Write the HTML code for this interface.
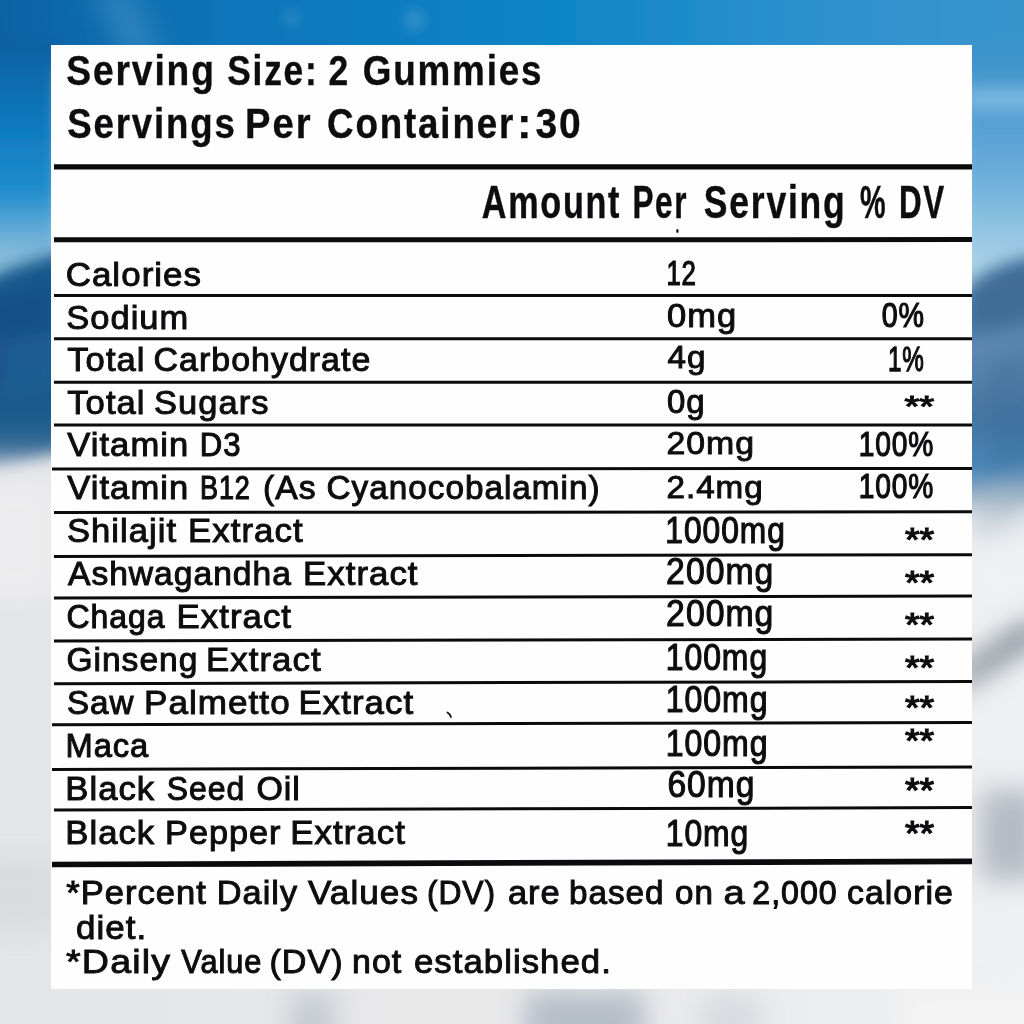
<!DOCTYPE html>
<html><head><meta charset="utf-8"><style>
html,body{margin:0;padding:0;width:1024px;height:1024px;overflow:hidden;background:#e9e9ea}
svg{display:block;will-change:transform}
text{font-family:"Liberation Sans",sans-serif;fill:#0d0d0f;stroke:#0d0d0f;stroke-width:0.7px}
text.b{stroke-width:0.3px}
</style></head><body>
<svg width="1024" height="1024" viewBox="0 0 1024 1024">
<defs>
<linearGradient id="skyL" x1="0" y1="0" x2="0" y2="1">
<stop offset="0" stop-color="#0b5e9f"/><stop offset="0.22" stop-color="#0c78bc"/><stop offset="0.42" stop-color="#1f8dcd"/><stop offset="0.58" stop-color="#80b8db"/><stop offset="0.7" stop-color="#a6cce3"/><stop offset="1" stop-color="#a6cce3"/>
</linearGradient>
<linearGradient id="skyR" x1="0" y1="0" x2="0" y2="1">
<stop offset="0" stop-color="#3a92cb"/><stop offset="0.15" stop-color="#4c9bd0"/><stop offset="0.3" stop-color="#66aad8"/><stop offset="0.45" stop-color="#8fc3e2"/><stop offset="0.52" stop-color="#a8d0e7"/><stop offset="1" stop-color="#a8d0e7"/>
</linearGradient>
<linearGradient id="skyT" x1="0" y1="0" x2="1" y2="0">
<stop offset="0" stop-color="#0a5c9e"/><stop offset="0.12" stop-color="#0a6aac"/><stop offset="0.25" stop-color="#0775b9"/><stop offset="0.5" stop-color="#0a82c5"/><stop offset="0.75" stop-color="#2b91cd"/><stop offset="1" stop-color="#3b95cd"/>
</linearGradient>
<linearGradient id="snow" x1="0" y1="0" x2="1" y2="0">
<stop offset="0" stop-color="#e4e5e7"/><stop offset="0.5" stop-color="#e9e9ea"/><stop offset="1" stop-color="#eff0f2"/>
</linearGradient>
<linearGradient id="mtR" x1="0" y1="255" x2="0" y2="515" gradientUnits="userSpaceOnUse">
<stop offset="0" stop-color="#47789f"/><stop offset="0.17" stop-color="#4c7da8"/><stop offset="0.37" stop-color="#5c88b0"/><stop offset="0.63" stop-color="#43749f"/><stop offset="0.83" stop-color="#4a88ba"/><stop offset="0.9" stop-color="#7fa3c0"/><stop offset="1" stop-color="#dfe5ea"/>
</linearGradient>
<linearGradient id="mtL" x1="0" y1="250" x2="0" y2="475" gradientUnits="userSpaceOnUse">
<stop offset="0" stop-color="#17578b"/><stop offset="0.75" stop-color="#1a5a8c"/><stop offset="0.88" stop-color="#3a6d98"/><stop offset="1" stop-color="#d0d8e0"/>
</linearGradient>
<filter id="b8" filterUnits="userSpaceOnUse" x="-100" y="-100" width="1224" height="1224"><feGaussianBlur stdDeviation="8"/></filter>
<filter id="b14" filterUnits="userSpaceOnUse" x="-100" y="-100" width="1224" height="1224"><feGaussianBlur stdDeviation="14"/></filter>
<filter id="b5" filterUnits="userSpaceOnUse" x="-100" y="-100" width="1224" height="1224"><feGaussianBlur stdDeviation="5"/></filter>
</defs>
<rect x="0" y="0" width="1024" height="1024" fill="url(#snow)"/>
<g filter="url(#b8)">
<rect x="-50" y="-50" width="1124" height="120" fill="url(#skyT)"/>
<rect x="-50" y="40" width="110" height="360" fill="url(#skyL)"/>
<rect x="960" y="40" width="114" height="420" fill="url(#skyR)"/>
</g>
<path d="M90 -15 L130 -15 L165 60 L125 60 Z" fill="#4a94c6" opacity="0.55" filter="url(#b14)"/>
<g filter="url(#b5)">

<circle cx="292" cy="18" r="9" fill="#3a90c8" opacity="0.5"/>
<circle cx="415" cy="20" r="11" fill="#4a9bd0" opacity="0.5"/>

</g>
<rect x="965" y="88" width="80" height="22" fill="#9ccbe8" opacity="0.6" filter="url(#b8)"/>
<g filter="url(#b8)">
<path d="M-30 285 L20 265 L70 250 L70 450 L-30 475 Z" fill="url(#mtL)"/>
<path d="M-10 300 L50 285 L50 370 L-10 390 Z" fill="#0f4d84" opacity="0.7"/>
<path d="M0 340 L60 330 L60 380 L0 395 Z" fill="#2a679a" opacity="0.5"/>
<path d="M950 305 Q990 255 1050 255 L1050 505 L950 515 Z" fill="url(#mtR)"/>
<path d="M968 290 Q995 262 1040 262 L1040 320 L968 335 Z" fill="#3c6994" opacity="0.8"/>
<path d="M990 360 L1030 350 L1030 470 L990 480 Z" fill="#3d6e9c" opacity="0.4"/>
</g>
<g filter="url(#b14)">
<path d="M955 672 L1040 612 L1040 640 L955 692 Z" fill="#75808b"/>
<rect x="980" y="790" width="60" height="90" fill="#b3bac3"/>
<rect x="-30" y="860" width="90" height="70" fill="#d9dadd"/>
<rect x="-30" y="480" width="90" height="120" fill="#ececee"/>
<rect x="290" y="992" width="45" height="60" fill="#c4cad1"/>
<rect x="525" y="992" width="120" height="60" fill="#b5bdc7"/>
<rect x="700" y="995" width="60" height="50" fill="#d6dade"/>
<rect x="900" y="989" width="164" height="55" fill="#f3f3f3"/>
<rect x="972" y="530" width="80" height="70" fill="#eef0f2"/>
<path d="M972 500 L1030 470 L1030 520 L972 540 Z" fill="#9fb0c0" opacity="0.6"/>
</g>

<rect x="51" y="45" width="921" height="944" fill="#fefefe"/>
<ellipse cx="677.4" cy="231" rx="1.2" ry="2" fill="#111"/>
<path d="M447.5 712.5 Q450 714 451 717" stroke="#111" stroke-width="1.8" fill="none" stroke-linecap="round"/>
<g stroke="#0b0b0d" stroke-linecap="butt">
<line x1="54" y1="166.8" x2="972" y2="166.8" stroke-width="5.3"/>
<line x1="54" y1="239.8" x2="972" y2="239.6" stroke-width="5"/>
<line x1="54" y1="295.4" x2="972" y2="295.4" stroke-width="3"/>
<line x1="54" y1="338.7" x2="972" y2="338.7" stroke-width="3"/>
<line x1="54" y1="382.2" x2="972" y2="382.2" stroke-width="3"/>
<line x1="54" y1="425" x2="972" y2="425" stroke-width="3"/>
<line x1="52" y1="469" x2="972" y2="468.4" stroke-width="3"/>
<line x1="54" y1="512.5" x2="972" y2="511.8" stroke-width="3"/>
<line x1="54" y1="556.4" x2="972" y2="554.7" stroke-width="3"/>
<line x1="54" y1="598" x2="972" y2="596" stroke-width="3"/>
<line x1="54" y1="640.9" x2="972" y2="639" stroke-width="3"/>
<line x1="54" y1="683.7" x2="972" y2="681.5" stroke-width="3"/>
<line x1="52" y1="724.7" x2="972" y2="722.5" stroke-width="3"/>
<line x1="52" y1="769.4" x2="972" y2="767" stroke-width="3"/>
<line x1="54" y1="810" x2="972" y2="807.6" stroke-width="3"/>
<line x1="52" y1="864.5" x2="972" y2="861.4" stroke-width="5.7"/>
</g>
<g>
<text transform="translate(66.32,85.20) scale(0.8780,1)" font-size="42.38" letter-spacing="2.12" font-weight="bold" style="stroke-width:0.34px">Serving</text>
<text transform="translate(227.25,85.20) scale(0.8332,1)" font-size="42.38" letter-spacing="2.12" font-weight="bold" style="stroke-width:0.36px">Size:</text>
<text transform="translate(328.49,85.20) scale(0.8353,1)" font-size="42.38" letter-spacing="2.12" font-weight="bold" style="stroke-width:0.36px">2</text>
<text transform="translate(362.65,85.20) scale(0.8693,1)" font-size="42.38" letter-spacing="2.12" font-weight="bold" style="stroke-width:0.35px">Gummies</text>
<text transform="translate(67.23,138.40) scale(0.8648,1)" font-size="42.38" letter-spacing="2.12" font-weight="bold" style="stroke-width:0.35px">Servings</text>
<text transform="translate(245.11,138.40) scale(0.9016,1)" font-size="42.38" letter-spacing="2.12" font-weight="bold" style="stroke-width:0.33px">Per</text>
<text transform="translate(327.05,138.40) scale(0.8674,1)" font-size="42.38" letter-spacing="2.12" font-weight="bold" style="stroke-width:0.35px">Container</text>
<text transform="translate(516.92,138.40) scale(1.0268,1)" font-size="42.38" letter-spacing="2.12" font-weight="bold" style="stroke-width:0.29px">:</text>
<text transform="translate(535.39,138.40) scale(0.9215,1)" font-size="42.38" letter-spacing="2.12" font-weight="bold" style="stroke-width:0.33px">30</text>
<text transform="translate(481.87,218.30) scale(0.7325,1)" font-size="46.65" letter-spacing="2.33" font-weight="bold" style="stroke-width:0.41px">Amount</text>
<text transform="translate(632.53,218.30) scale(0.6750,1)" font-size="46.65" letter-spacing="2.33" font-weight="bold" style="stroke-width:0.44px">Per</text>
<text transform="translate(703.85,218.30) scale(0.7608,1)" font-size="46.65" letter-spacing="2.33" font-weight="bold" style="stroke-width:0.39px">Serving</text>
<text transform="translate(860.05,218.30) scale(0.6161,1)" font-size="46.65" letter-spacing="2.33" font-weight="bold" style="stroke-width:0.49px">%</text>
<text transform="translate(899.04,218.30) scale(0.6719,1)" font-size="46.65" letter-spacing="2.33" font-weight="bold" style="stroke-width:0.45px">DV</text>
<text transform="translate(65.66,285.60) scale(1.0231,1)" font-size="34.13" letter-spacing="1.02" font-weight="normal" style="stroke-width:0.98px">Calories</text>
<text transform="translate(66.22,328.60) scale(1.0108,1)" font-size="34.13" letter-spacing="1.02" font-weight="normal" style="stroke-width:0.99px">Sodium</text>
<text transform="translate(67.26,371.30) scale(1.0148,1)" font-size="34.13" letter-spacing="1.02" font-weight="normal" style="stroke-width:0.99px">Total</text>
<text transform="translate(153.61,371.30) scale(0.9940,1)" font-size="34.13" letter-spacing="1.02" font-weight="normal" style="stroke-width:1.01px">Carbohydrate</text>
<text transform="translate(67.26,413.50) scale(1.0148,1)" font-size="34.13" letter-spacing="1.02" font-weight="normal" style="stroke-width:0.99px">Total</text>
<text transform="translate(154.12,413.50) scale(1.0096,1)" font-size="34.13" letter-spacing="1.02" font-weight="normal" style="stroke-width:0.99px">Sugars</text>
<text transform="translate(67.30,455.60) scale(1.0134,1)" font-size="34.13" letter-spacing="1.02" font-weight="normal" style="stroke-width:0.99px">Vitamin</text>
<text transform="translate(199.77,455.60) scale(0.9112,1)" font-size="34.13" letter-spacing="1.02" font-weight="normal" style="stroke-width:1.10px">D3</text>
<text transform="translate(67.30,499.00) scale(1.0134,1)" font-size="34.13" letter-spacing="1.02" font-weight="normal" style="stroke-width:0.99px">Vitamin</text>
<text transform="translate(200.09,499.00) scale(0.7917,1)" font-size="34.13" letter-spacing="1.02" font-weight="normal" style="stroke-width:1.25px">B12</text>
<text transform="translate(263.02,499.00) scale(0.9865,1)" font-size="34.13" letter-spacing="1.02" font-weight="normal" style="stroke-width:1.01px">(As</text>
<text transform="translate(326.54,499.00) scale(0.9758,1)" font-size="34.13" letter-spacing="1.02" font-weight="normal" style="stroke-width:1.02px">Cyanocobalamin)</text>
<text transform="translate(66.92,542.40) scale(1.0143,1)" font-size="34.13" letter-spacing="1.02" font-weight="normal" style="stroke-width:0.99px">Shilajit</text>
<text transform="translate(188.08,542.40) scale(1.0199,1)" font-size="34.13" letter-spacing="1.02" font-weight="normal" style="stroke-width:0.98px">Extract</text>
<text transform="translate(68.00,585.00) scale(0.9841,1)" font-size="34.13" letter-spacing="1.02" font-weight="normal" style="stroke-width:1.02px">Ashwagandha</text>
<text transform="translate(302.98,585.00) scale(1.0199,1)" font-size="34.13" letter-spacing="1.02" font-weight="normal" style="stroke-width:0.98px">Extract</text>
<text transform="translate(66.50,627.80) scale(0.9371,1)" font-size="34.13" letter-spacing="1.02" font-weight="normal" style="stroke-width:1.07px">Chaga</text>
<text transform="translate(176.48,627.80) scale(1.0199,1)" font-size="34.13" letter-spacing="1.02" font-weight="normal" style="stroke-width:0.98px">Extract</text>
<text transform="translate(66.43,671.00) scale(0.9826,1)" font-size="34.13" letter-spacing="1.02" font-weight="normal" style="stroke-width:1.02px">Ginseng</text>
<text transform="translate(206.08,671.00) scale(1.0199,1)" font-size="34.13" letter-spacing="1.02" font-weight="normal" style="stroke-width:0.98px">Extract</text>
<text transform="translate(66.96,713.80) scale(0.9735,1)" font-size="34.13" letter-spacing="1.02" font-weight="normal" style="stroke-width:1.03px">Saw</text>
<text transform="translate(143.96,713.80) scale(1.0274,1)" font-size="34.13" letter-spacing="1.02" font-weight="normal" style="stroke-width:0.97px">Palmetto</text>
<text transform="translate(298.58,713.80) scale(1.0199,1)" font-size="34.13" letter-spacing="1.02" font-weight="normal" style="stroke-width:0.98px">Extract</text>
<text transform="translate(65.45,756.50) scale(0.9573,1)" font-size="34.13" letter-spacing="1.02" font-weight="normal" style="stroke-width:1.04px">Maca</text>
<text transform="translate(65.29,800.00) scale(1.0149,1)" font-size="34.13" letter-spacing="1.02" font-weight="normal" style="stroke-width:0.99px">Black</text>
<text transform="translate(166.70,800.00) scale(0.9360,1)" font-size="34.13" letter-spacing="1.02" font-weight="normal" style="stroke-width:1.07px">Seed</text>
<text transform="translate(256.41,800.00) scale(0.9946,1)" font-size="34.13" letter-spacing="1.02" font-weight="normal" style="stroke-width:1.01px">Oil</text>
<text transform="translate(65.29,844.00) scale(1.0149,1)" font-size="34.13" letter-spacing="1.02" font-weight="normal" style="stroke-width:0.99px">Black</text>
<text transform="translate(165.03,844.00) scale(1.0031,1)" font-size="34.13" letter-spacing="1.02" font-weight="normal" style="stroke-width:1.00px">Pepper</text>
<text transform="translate(290.28,844.00) scale(1.0199,1)" font-size="34.13" letter-spacing="1.02" font-weight="normal" style="stroke-width:0.98px">Extract</text>
<text transform="translate(666.38,285.40) scale(0.7520,1)" font-size="34.42" letter-spacing="1.03" font-weight="normal" style="stroke-width:1.25px">12</text>
<text transform="translate(666.92,327.20) scale(1.0552,1)" font-size="32.71" letter-spacing="0.98" font-weight="normal" style="stroke-width:0.95px">0mg</text>
<text transform="translate(667.48,368.40) scale(1.0438,1)" font-size="31.86" letter-spacing="0.96" font-weight="normal" style="stroke-width:0.96px">4g</text>
<text transform="translate(666.97,412.50) scale(1.0085,1)" font-size="32.71" letter-spacing="0.98" font-weight="normal" style="stroke-width:0.99px">0g</text>
<text transform="translate(666.41,454.30) scale(1.0621,1)" font-size="31.86" letter-spacing="0.96" font-weight="normal" style="stroke-width:0.94px">20mg</text>
<text transform="translate(666.44,498.00) scale(1.0382,1)" font-size="32.00" letter-spacing="0.96" font-weight="normal" style="stroke-width:0.96px">2.4mg</text>
<text transform="translate(665.32,542.50) scale(0.8752,1)" font-size="36.27" letter-spacing="1.09" font-weight="normal" style="stroke-width:1.14px">1000mg</text>
<text transform="translate(666.12,583.90) scale(0.9300,1)" font-size="36.27" letter-spacing="1.09" font-weight="normal" style="stroke-width:1.08px">200mg</text>
<text transform="translate(666.12,626.10) scale(0.9300,1)" font-size="36.27" letter-spacing="1.09" font-weight="normal" style="stroke-width:1.08px">200mg</text>
<text transform="translate(665.70,670.00) scale(0.8807,1)" font-size="36.27" letter-spacing="1.09" font-weight="normal" style="stroke-width:1.14px">100mg</text>
<text transform="translate(665.70,711.70) scale(0.8843,1)" font-size="36.27" letter-spacing="1.09" font-weight="normal" style="stroke-width:1.13px">100mg</text>
<text transform="translate(665.70,755.60) scale(0.8843,1)" font-size="36.27" letter-spacing="1.09" font-weight="normal" style="stroke-width:1.13px">100mg</text>
<text transform="translate(667.43,797.00) scale(0.9263,1)" font-size="36.27" letter-spacing="1.09" font-weight="normal" style="stroke-width:1.08px">60mg</text>
<text transform="translate(665.71,846.20) scale(0.8787,1)" font-size="36.27" letter-spacing="1.09" font-weight="normal" style="stroke-width:1.14px">10mg</text>
<text transform="translate(881.71,326.50) scale(0.8355,1)" font-size="34.28" letter-spacing="1.03" font-weight="normal" style="stroke-width:1.20px">0%</text>
<text transform="translate(887.98,371.00) scale(0.6972,1)" font-size="34.84" letter-spacing="1.05" font-weight="normal" style="stroke-width:1.25px">1%</text>
<text transform="translate(858.74,455.70) scale(0.8209,1)" font-size="34.28" letter-spacing="1.03" font-weight="normal" style="stroke-width:1.22px">100%</text>
<text transform="translate(858.74,497.70) scale(0.8209,1)" font-size="34.28" letter-spacing="1.03" font-weight="normal" style="stroke-width:1.22px">100%</text>
<text transform="translate(66.16,904.00) scale(1.0334,1)" font-size="33.42" letter-spacing="1.00" font-weight="normal" style="stroke-width:0.97px">*Percent</text>
<text transform="translate(216.82,904.00) scale(1.0266,1)" font-size="33.42" letter-spacing="1.00" font-weight="normal" style="stroke-width:0.97px">Daily</text>
<text transform="translate(308.00,904.00) scale(1.0513,1)" font-size="33.42" letter-spacing="1.00" font-weight="normal" style="stroke-width:0.95px">Values</text>
<text transform="translate(426.91,904.00) scale(0.9518,1)" font-size="33.42" letter-spacing="1.00" font-weight="normal" style="stroke-width:1.05px">(DV)</text>
<text transform="translate(507.92,904.00) scale(1.0311,1)" font-size="33.42" letter-spacing="1.00" font-weight="normal" style="stroke-width:0.97px">are</text>
<text transform="translate(568.92,904.00) scale(0.9955,1)" font-size="33.42" letter-spacing="1.00" font-weight="normal" style="stroke-width:1.00px">based</text>
<text transform="translate(674.96,904.00) scale(0.9927,1)" font-size="33.42" letter-spacing="1.00" font-weight="normal" style="stroke-width:1.01px">on</text>
<text transform="translate(723.41,904.00) scale(1.1377,1)" font-size="33.42" letter-spacing="1.00" font-weight="normal" style="stroke-width:0.88px">a</text>
<text transform="translate(752.29,904.00) scale(0.9642,1)" font-size="33.42" letter-spacing="1.00" font-weight="normal" style="stroke-width:1.04px">2,000</text>
<text transform="translate(846.94,904.00) scale(1.0140,1)" font-size="33.42" letter-spacing="1.00" font-weight="normal" style="stroke-width:0.99px">calorie</text>
<text transform="translate(75.91,938.60) scale(1.0456,1)" font-size="33.42" letter-spacing="1.00" font-weight="normal" style="stroke-width:0.96px">diet.</text>
<text transform="translate(66.11,973.00) scale(1.1255,1)" font-size="33.42" letter-spacing="1.00" font-weight="normal" style="stroke-width:0.89px">*Daily</text>
<text transform="translate(181.30,973.00) scale(0.9188,1)" font-size="33.42" letter-spacing="1.00" font-weight="normal" style="stroke-width:1.09px">Value</text>
<text transform="translate(269.40,973.00) scale(1.0205,1)" font-size="33.42" letter-spacing="1.00" font-weight="normal" style="stroke-width:0.98px">(DV)</text>
<text transform="translate(352.08,973.00) scale(1.0152,1)" font-size="33.42" letter-spacing="1.00" font-weight="normal" style="stroke-width:0.99px">not</text>
<text transform="translate(413.91,973.00) scale(1.0403,1)" font-size="33.42" letter-spacing="1.00" font-weight="normal" style="stroke-width:0.96px">established.</text>
<text transform="translate(904.40,415.84) scale(0.0955,0.0727)" font-size="400" font-weight="normal" style="stroke-width:16.51px">**</text>
<text transform="translate(904.91,550.66) scale(0.0938,0.0820)" font-size="400" font-weight="normal" style="stroke-width:14.63px">**</text>
<text transform="translate(904.91,593.76) scale(0.0938,0.0820)" font-size="400" font-weight="normal" style="stroke-width:14.63px">**</text>
<text transform="translate(904.91,635.96) scale(0.0938,0.0820)" font-size="400" font-weight="normal" style="stroke-width:14.63px">**</text>
<text transform="translate(904.91,679.06) scale(0.0938,0.0820)" font-size="400" font-weight="normal" style="stroke-width:14.63px">**</text>
<text transform="translate(904.91,718.86) scale(0.0938,0.0820)" font-size="400" font-weight="normal" style="stroke-width:14.63px">**</text>
<text transform="translate(904.91,752.45) scale(0.0938,0.0827)" font-size="400" font-weight="normal" style="stroke-width:14.52px">**</text>
<text transform="translate(904.91,802.35) scale(0.0938,0.0880)" font-size="400" font-weight="normal" style="stroke-width:13.64px">**</text>
<text transform="translate(904.91,845.45) scale(0.0938,0.0880)" font-size="400" font-weight="normal" style="stroke-width:13.64px">**</text>
</g>
</svg>
</body></html>
